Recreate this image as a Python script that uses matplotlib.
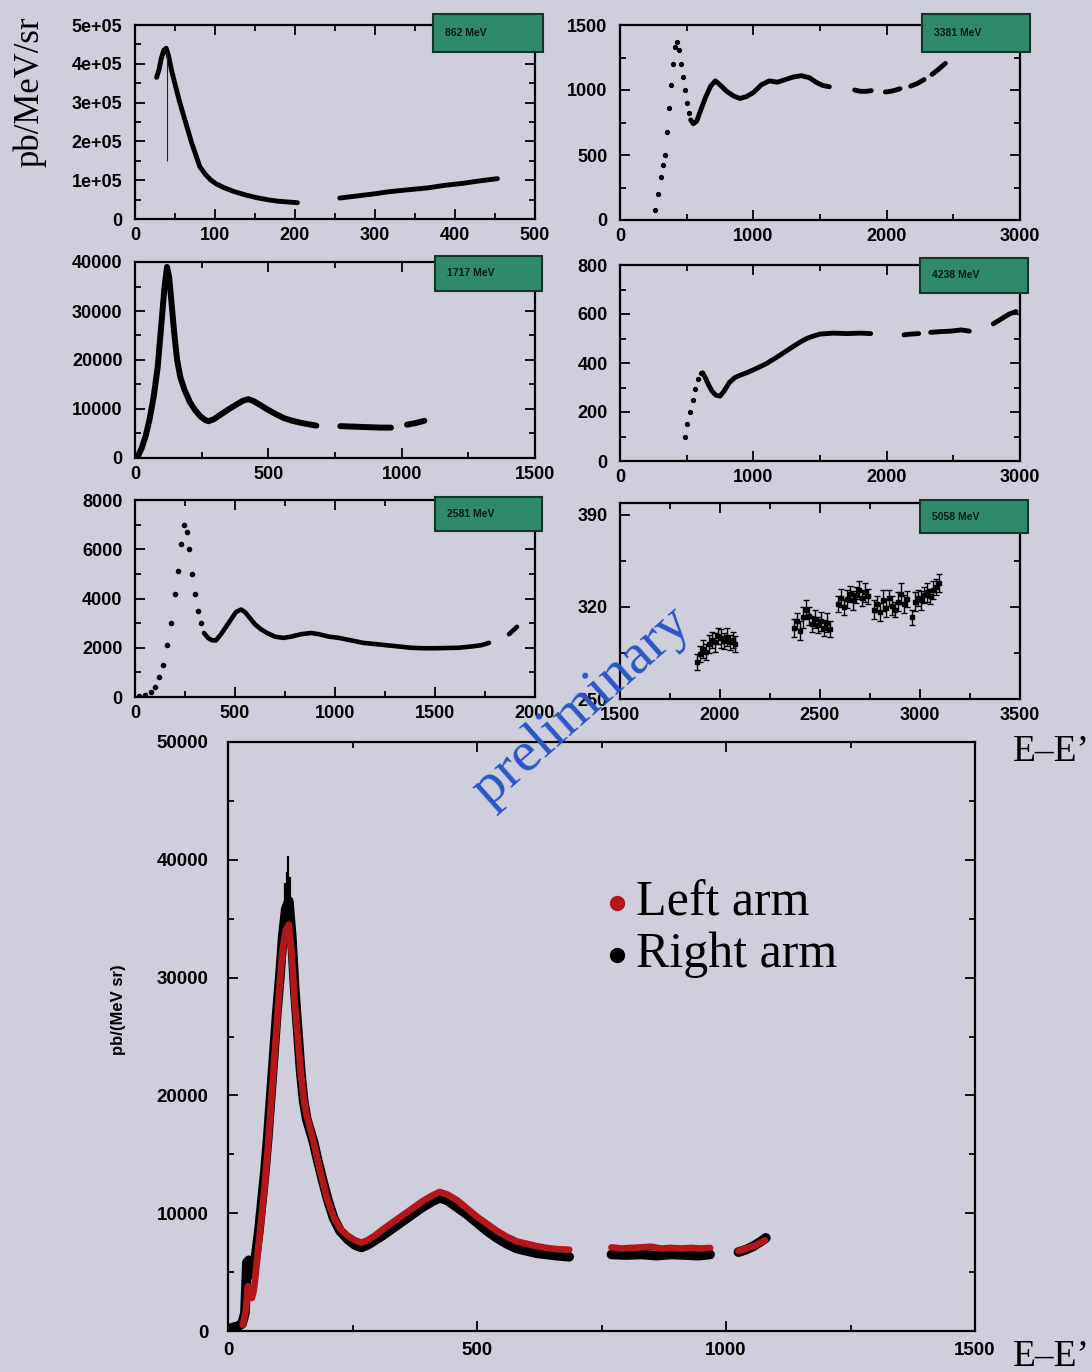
import numpy as np
import matplotlib
matplotlib.use('Agg')
import matplotlib.pyplot as plt
from matplotlib.ticker import MultipleLocator, FixedLocator, FuncFormatter
from matplotlib.patches import Rectangle

NaN = float('nan')

# ---------------- data ----------------
# 862 MeV
e862_x = [27, 30, 33, 36, 39, 42, 46, 51, 56, 61, 66, 71, 76, 81, 88, 95, 102, 112, 125, 138, 152, 165, 178, 190, 203,
          NaN, 256, 280, 300, 316, 340, 365, 388, 410, 430, 453]
e862_y = [3.65e5, 3.85e5, 4.15e5, 4.35e5, 4.4e5, 4.2e5, 3.8e5, 3.4e5, 3.0e5, 2.65e5, 2.3e5, 1.95e5, 1.65e5, 1.35e5,
          1.15e5, 1.0e5, 0.9e5, 0.8e5, 0.7e5, 0.62e5, 0.55e5, 0.5e5, 0.46e5, 0.44e5, 0.42e5,
          NaN, 0.54e5, 0.6e5, 0.65e5, 0.7e5, 0.75e5, 0.8e5, 0.87e5, 0.92e5, 0.98e5, 1.04e5]
e862_spike_x = [40]
e862_spike_lo = [1.5e5]
e862_spike_hi = [4.3e5]

# 3381 MeV
e3381_edge_x = [265, 285, 305, 325, 340, 355, 370, 385, 400, 415, 428, 440, 455, 470, 485, 500, 515]
e3381_edge_y = [80, 200, 330, 420, 500, 680, 860, 1040, 1200, 1330, 1370, 1310, 1200, 1100, 1000, 900, 820]
e3381_x = [530, 550, 575, 600, 640, 680, 715, 750, 800, 850, 900, 950, 1000, 1060, 1120, 1180, 1240, 1300, 1360,
           1420, 1470, 1520, 1570, NaN, 1760, 1800, 1850, 1885, NaN, 1990, 2030, 2070, 2100, NaN,
           2180, 2230, 2280, NaN, 2340, 2390, 2440]
e3381_y = [770, 740, 760, 830, 940, 1030, 1070, 1040, 990, 955, 935, 950, 980, 1040, 1070, 1060, 1080, 1100, 1110,
           1095, 1060, 1035, 1025, NaN, 1000, 990, 990, 995, NaN, 985, 990, 1000, 1010, NaN,
           1030, 1050, 1080, NaN, 1120, 1160, 1205]

# 1717 MeV
e1717_x = [12, 25, 40, 55, 70, 85, 100, 110, 120, 128, 138, 148, 158, 170, 185, 205, 225, 245, 262, 275, 295, 320,
           350, 380, 405, 425, 445, 470, 500, 530, 560, 590, 620, 650, 680, NaN,
           770, 820, 870, 920, 960, NaN, 1020, 1050, 1085]
e1717_y = [500, 2000, 4500, 8000, 12500, 18500, 28000, 34500, 39000, 37000, 31000, 25000, 20000, 16500, 14000,
           11500, 9800, 8500, 7800, 7500, 7900, 8800, 9900, 10900, 11700, 12000, 11600, 10800, 9800, 8900, 8100,
           7600, 7200, 6900, 6600, NaN, 6500, 6400, 6300, 6200, 6200, NaN, 6800, 7100, 7600]

# 4238 MeV
e4238_edge_x = [485, 505, 525, 545, 565, 585, 605]
e4238_edge_y = [100, 150, 200, 250, 295, 335, 358]
e4238_x = [620, 640, 665, 690, 720, 750, 780, 820, 860, 900, 950, 1000, 1050, 1100, 1150, 1200, 1250, 1300, 1350,
           1400, 1450, 1500, 1600, 1700, 1800, 1880, NaN, 2130, 2180, 2240, NaN, 2330, 2400, 2480, 2560, 2620, NaN,
           2800, 2860, 2920, 2970]
e4238_y = [360, 340, 310, 285, 268, 265, 285, 320, 340, 350, 360, 372, 385, 398, 415, 432, 450, 468, 485,
           500, 510, 518, 522, 520, 522, 520, NaN, 515, 518, 520, NaN, 525, 528, 530, 535, 530, NaN,
           560, 580, 600, 610]

# 2581 MeV
e2581_edge_x = [20, 50, 80, 100, 120, 140, 160, 180, 200, 215, 230, 245, 258, 270, 285, 300, 315, 330]
e2581_edge_y = [60, 100, 200, 400, 800, 1300, 2100, 3000, 4200, 5100, 6200, 7000, 6700, 6000, 5000, 4200, 3500, 3000]
e2581_x = [345, 365, 385, 405, 430, 455, 480, 505, 530, 550, 575, 600, 630, 660, 700, 740, 780, 830, 880, 920, 970,
           1020, 1080, 1140, 1200, 1260, 1320, 1380, 1440, 1500, 1560, 1620, 1680, 1730, 1770, NaN, 1870, 1890, 1910]
e2581_y = [2600, 2400, 2300, 2300, 2550, 2850, 3150, 3450, 3550, 3450, 3200, 2950, 2750, 2600, 2450, 2400, 2450,
           2550, 2600, 2550, 2450, 2400, 2300, 2200, 2150, 2100, 2050, 2000, 1980, 1980, 1990, 2000, 2050, 2100, 2200,
           NaN, 2550, 2700, 2850]

# 5058 MeV
e5058_x = [1885, 1900, 1915, 1930, 1945, 1960, 1975, 1990, 2005, 2020, 2035, 2050, 2065, 2075,
           2370, 2385, 2400, 2415, 2430, 2445, 2460, 2475, 2490, 2505, 2520, 2535, 2550,
           2590, 2605, 2620, 2635, 2650, 2665, 2680, 2695, 2710, 2725, 2740,
           2770, 2785, 2800, 2815, 2830, 2845, 2860, 2875, 2890, 2905, 2920, 2935,
           2960, 2975, 2990, 3005, 3020, 3035, 3050, 3065, 3080, 3095]
e5058_y = [278, 284, 288, 286, 292, 295, 293, 298, 296, 294, 297, 293, 295, 292,
           304, 309, 302, 312, 318, 313, 307, 311, 306, 309, 304, 308, 303,
           322, 327, 320, 326, 330, 325, 329, 333, 327, 331, 328,
           318, 322, 316, 325, 319, 327, 321, 318, 324, 330, 322, 326,
           312, 324, 327, 325, 329, 331, 328, 333, 335, 338]
e5058_err = [6, 6, 7, 6, 7, 6, 7, 6, 7, 6, 7, 6, 6, 6,
             7, 6, 7, 8, 7, 7, 6, 7, 6, 7, 6, 7, 6,
             6, 7, 6, 7, 6, 7, 6, 7, 6, 7, 6,
             7, 6, 7, 8, 7, 6, 7, 6, 7, 8, 7, 6,
             6, 7, 6, 7, 6, 7, 6, 7, 6, 7]

# bottom: 1717 MeV, both arms
right_x = [2, 10, 20, 28, 34, 38, 42, 46, 50, 56, 62, 68, 74, 80, 86, 92, 98, 104, 110, 116, 122, 128, 134, 140, 146,
           152, 158, 165, 172, 180, 190, 200, 212, 225, 240, 255, 268, 280, 295, 310, 330, 350, 370, 390, 410, 425,
           440, 460, 480, 500, 520, 540, 560, 580, 600, 620, 640, 660, 685, NaN,
           770, 800, 830, 860, 890, 920, 945, 968, NaN, 1025, 1040, 1055, 1070, 1080]
right_y = [200, 300, 400, 600, 1500, 5800, 6000, 4800, 4800, 6500, 8500, 11000, 13500, 16500, 20000, 23500, 27000,
           30000, 33500, 35800, 36500, 33500, 29000, 25500, 22000, 19500, 18000, 17000, 16000, 14500, 12800, 11200,
           9600, 8500, 7800, 7300, 7100, 7300, 7700, 8100, 8700, 9300, 9900, 10500, 11000, 11300, 11100, 10500,
           9900, 9200, 8500, 7900, 7400, 7000, 6800, 6600, 6500, 6400, 6300, NaN,
           6500, 6450, 6500, 6400, 6500, 6450, 6400, 6500, NaN, 6700, 6900, 7200, 7600, 7900]
right_peak_x = [114, 118, 121, 125]
right_peak_lo = [33000, 33500, 34000, 33000]
right_peak_hi = [38000, 39000, 40300, 38500]

left_x = [30, 36, 40, 44, 48, 52, 56, 62, 68, 74, 80, 86, 92, 98, 104, 110, 116, 122, 128, 134, 140, 146, 152, 158,
          165, 172, 180, 190, 200, 212, 225, 240, 255, 268, 280, 295, 310, 330, 350, 370, 390, 410, 425, 440, 460,
          480, 500, 520, 540, 560, 580, 600, 620, 640, 660, 685, NaN,
          770, 790, 810, 830, 850, 870, 890, 910, 930, 950, 968, NaN, 1025, 1040, 1055, 1070, 1078]
left_y = [500, 1800, 3800, 3200, 2800, 3500, 5000, 7500, 10000, 12500, 15500, 19000, 22500, 26000, 29500, 32500,
          34000, 34500, 32000, 28000, 25000, 22000, 19800, 18300, 17200, 16000, 14500, 12700, 11100, 9700, 8700,
          8100, 7700, 7500, 7700, 8100, 8600, 9200, 9800, 10400, 11000, 11500, 11800, 11600, 11100, 10400, 9700,
          9100, 8500, 8000, 7600, 7400, 7200, 7050, 6950, 6900, NaN,
          7100, 7000, 7050, 7100, 7150, 7000, 7050, 7000, 7050, 7000, 7050, NaN, 6800, 7000, 7200, 7500, 7700]

panel_labels = ['862 MeV', '3381 MeV', '1717 MeV', '4238 MeV', '2581 MeV', '5058 MeV']
legend_labels = ['Left arm', 'Right arm']

# ---------------- figure ----------------
BG = '#cfcedc'
GREEN = '#2e8a6a'
RED = '#b3161b'
plt.rcParams['font.family'] = ['Liberation Sans', 'DejaVu Sans']
plt.rcParams['font.weight'] = 'bold'

W, H = 1092, 1372
fig = plt.figure(figsize=(W / 100, H / 100), dpi=100)
fig.patch.set_facecolor(BG)


def ax_px(l, t, r, b):
    return fig.add_axes([l / W, 1 - b / H, (r - l) / W, (b - t) / H])


def style(ax, xlim, ylim, xmaj, xmin, ymaj, ymin, fs=13):
    ax.set_facecolor(BG)
    ax.set_xlim(*xlim)
    ax.set_ylim(*ylim)
    ax.xaxis.set_major_locator(MultipleLocator(xmaj))
    ax.xaxis.set_minor_locator(MultipleLocator(xmin))
    ax.yaxis.set_major_locator(MultipleLocator(ymaj))
    ax.yaxis.set_minor_locator(MultipleLocator(ymin))
    for s in ax.spines.values():
        s.set_linewidth(1.6)
    ax.tick_params(which='both', direction='in', top=True, right=True, width=1.3, labelsize=fs)
    ax.tick_params(which='major', length=7)
    ax.tick_params(which='minor', length=4)
    ax.tick_params(axis='y', pad=9)
    ax.tick_params(axis='x', pad=6)


def green_box(l, t, r, b, text):
    fig.add_artist(Rectangle((l / W, 1 - b / H), (r - l) / W, (b - t) / H, transform=fig.transFigure,
                             facecolor=GREEN, edgecolor='#16352b', linewidth=1.5, zorder=10))
    fig.text((l + 12) / W, 1 - ((t + b) / 2) / H, text, fontsize=7.5, fontweight='bold', color='#0b1a14',
             ha='left', va='center', zorder=11)


def sci(v, pos):
    if v == 0:
        return '0'
    return '%de+05' % int(round(v / 1e5))


# Panel 1 : 862 MeV
ax1 = ax_px(135, 25, 535, 219)
style(ax1, (0, 500), (0, 5e5), 100, 50, 1e5, 0.5e5)
ax1.yaxis.set_major_formatter(FuncFormatter(sci))
ax1.plot(e862_x, e862_y, '-', color='k', lw=3.5, solid_capstyle='round')
ax1.vlines(e862_spike_x, e862_spike_lo, e862_spike_hi, color='#222222', lw=0.8)

# Panel 2 : 3381 MeV
ax2 = ax_px(620, 25, 1020, 220)
style(ax2, (0, 3000), (0, 1500), 1000, 500, 500, 250)
ax2.plot(e3381_edge_x, e3381_edge_y, 'o', color='k', ms=2.8)
ax2.plot(e3381_x, e3381_y, '-', color='k', lw=3.5, solid_capstyle='round')

# Panel 3 : 1717 MeV
ax3 = ax_px(135, 262, 535, 458)
style(ax3, (0, 1500), (0, 40000), 500, 250, 10000, 5000)
ax3.plot(e1717_x, e1717_y, '-', color='k', lw=4.3, solid_capstyle='round')

# Panel 4 : 4238 MeV
ax4 = ax_px(620, 265, 1020, 461)
style(ax4, (0, 3000), (0, 800), 1000, 500, 200, 100)
ax4.plot(e4238_edge_x, e4238_edge_y, 'o', color='k', ms=2.8)
ax4.plot(e4238_x, e4238_y, '-', color='k', lw=3.5, solid_capstyle='round')

# Panel 5 : 2581 MeV
ax5 = ax_px(135, 500, 535, 697)
style(ax5, (0, 2000), (0, 8000), 500, 250, 2000, 1000)
ax5.plot(e2581_edge_x, e2581_edge_y, 'o', color='k', ms=3.0)
ax5.plot(e2581_x, e2581_y, '-', color='k', lw=3.3, solid_capstyle='round')

# Panel 6 : 5058 MeV
ax6 = ax_px(620, 503, 1020, 699)
style(ax6, (1500, 3500), (250, 399), 500, 250, 70, 35)
ax6.yaxis.set_major_locator(FixedLocator([250, 320, 390]))
ax6.yaxis.set_minor_locator(FixedLocator([285, 355]))
ax6.errorbar(e5058_x, e5058_y, yerr=e5058_err, fmt='s', color='k', ms=2.2, elinewidth=1.0, capsize=2.0,
             capthick=1.0)

for (l, t, r, b), lab in zip([(433, 14, 543, 52), (922, 14, 1030, 52), (435, 256, 542, 291),
                              (920, 258, 1028, 293), (435, 497, 542, 531), (920, 500, 1028, 533)], panel_labels):
    green_box(l, t, r, b, lab)

# Big bottom panel
axb = ax_px(228, 742, 975, 1331)
style(axb, (0, 1500), (0, 50000), 500, 250, 10000, 5000, fs=13.5)
axb.tick_params(axis='y', pad=14)
axb.tick_params(axis='x', pad=8)
axb.plot(right_x, right_y, '-', color='k', lw=7.0, solid_capstyle='round', zorder=3)
axb.vlines(right_peak_x, right_peak_lo, right_peak_hi, color='k', lw=1.6, zorder=3)
axb.plot(left_x, left_y, '-', color=RED, lw=4.8, solid_capstyle='round', zorder=4)

# legend
axb.plot([0.521], [0.727], 'o', color=RED, ms=10, transform=axb.transAxes, clip_on=False)
axb.plot([0.521], [0.638], 'o', color='k', ms=10, transform=axb.transAxes, clip_on=False)
axb.text(0.546, 0.727, legend_labels[0], transform=axb.transAxes, fontsize=36, fontweight='normal',
         family='Liberation Serif', ha='left', va='center')
axb.text(0.546, 0.638, legend_labels[1], transform=axb.transAxes, fontsize=36, fontweight='normal',
         family='Liberation Serif', ha='left', va='center')

# labels
fig.text(30 / W, 1 - 92 / H, 'pb/MeV/sr', rotation=90, fontsize=25, fontweight='normal',
         family='Liberation Serif', ha='center', va='center')
fig.text(118 / W, 1 - 1010 / H, 'pb/(MeV sr)', rotation=90, fontsize=12, fontweight='bold',
         ha='center', va='center')
fig.text(1013 / W, 1 - 752 / H, 'E\u2013E\u2019', fontsize=27, fontweight='normal',
         family='Liberation Serif', ha='left', va='center')
fig.text(1013 / W, 1 - 1357 / H, 'E\u2013E\u2019', fontsize=27, fontweight='normal',
         family='Liberation Serif', ha='left', va='center')

# watermark
fig.text(582 / W, 1 - 706 / H, 'preliminary', rotation=41.5, fontsize=42, fontweight='normal',
         family='Liberation Serif', color='#2b55c6', ha='center', va='center', zorder=100)

fig.savefig('out.png', dpi=100, facecolor=BG)
